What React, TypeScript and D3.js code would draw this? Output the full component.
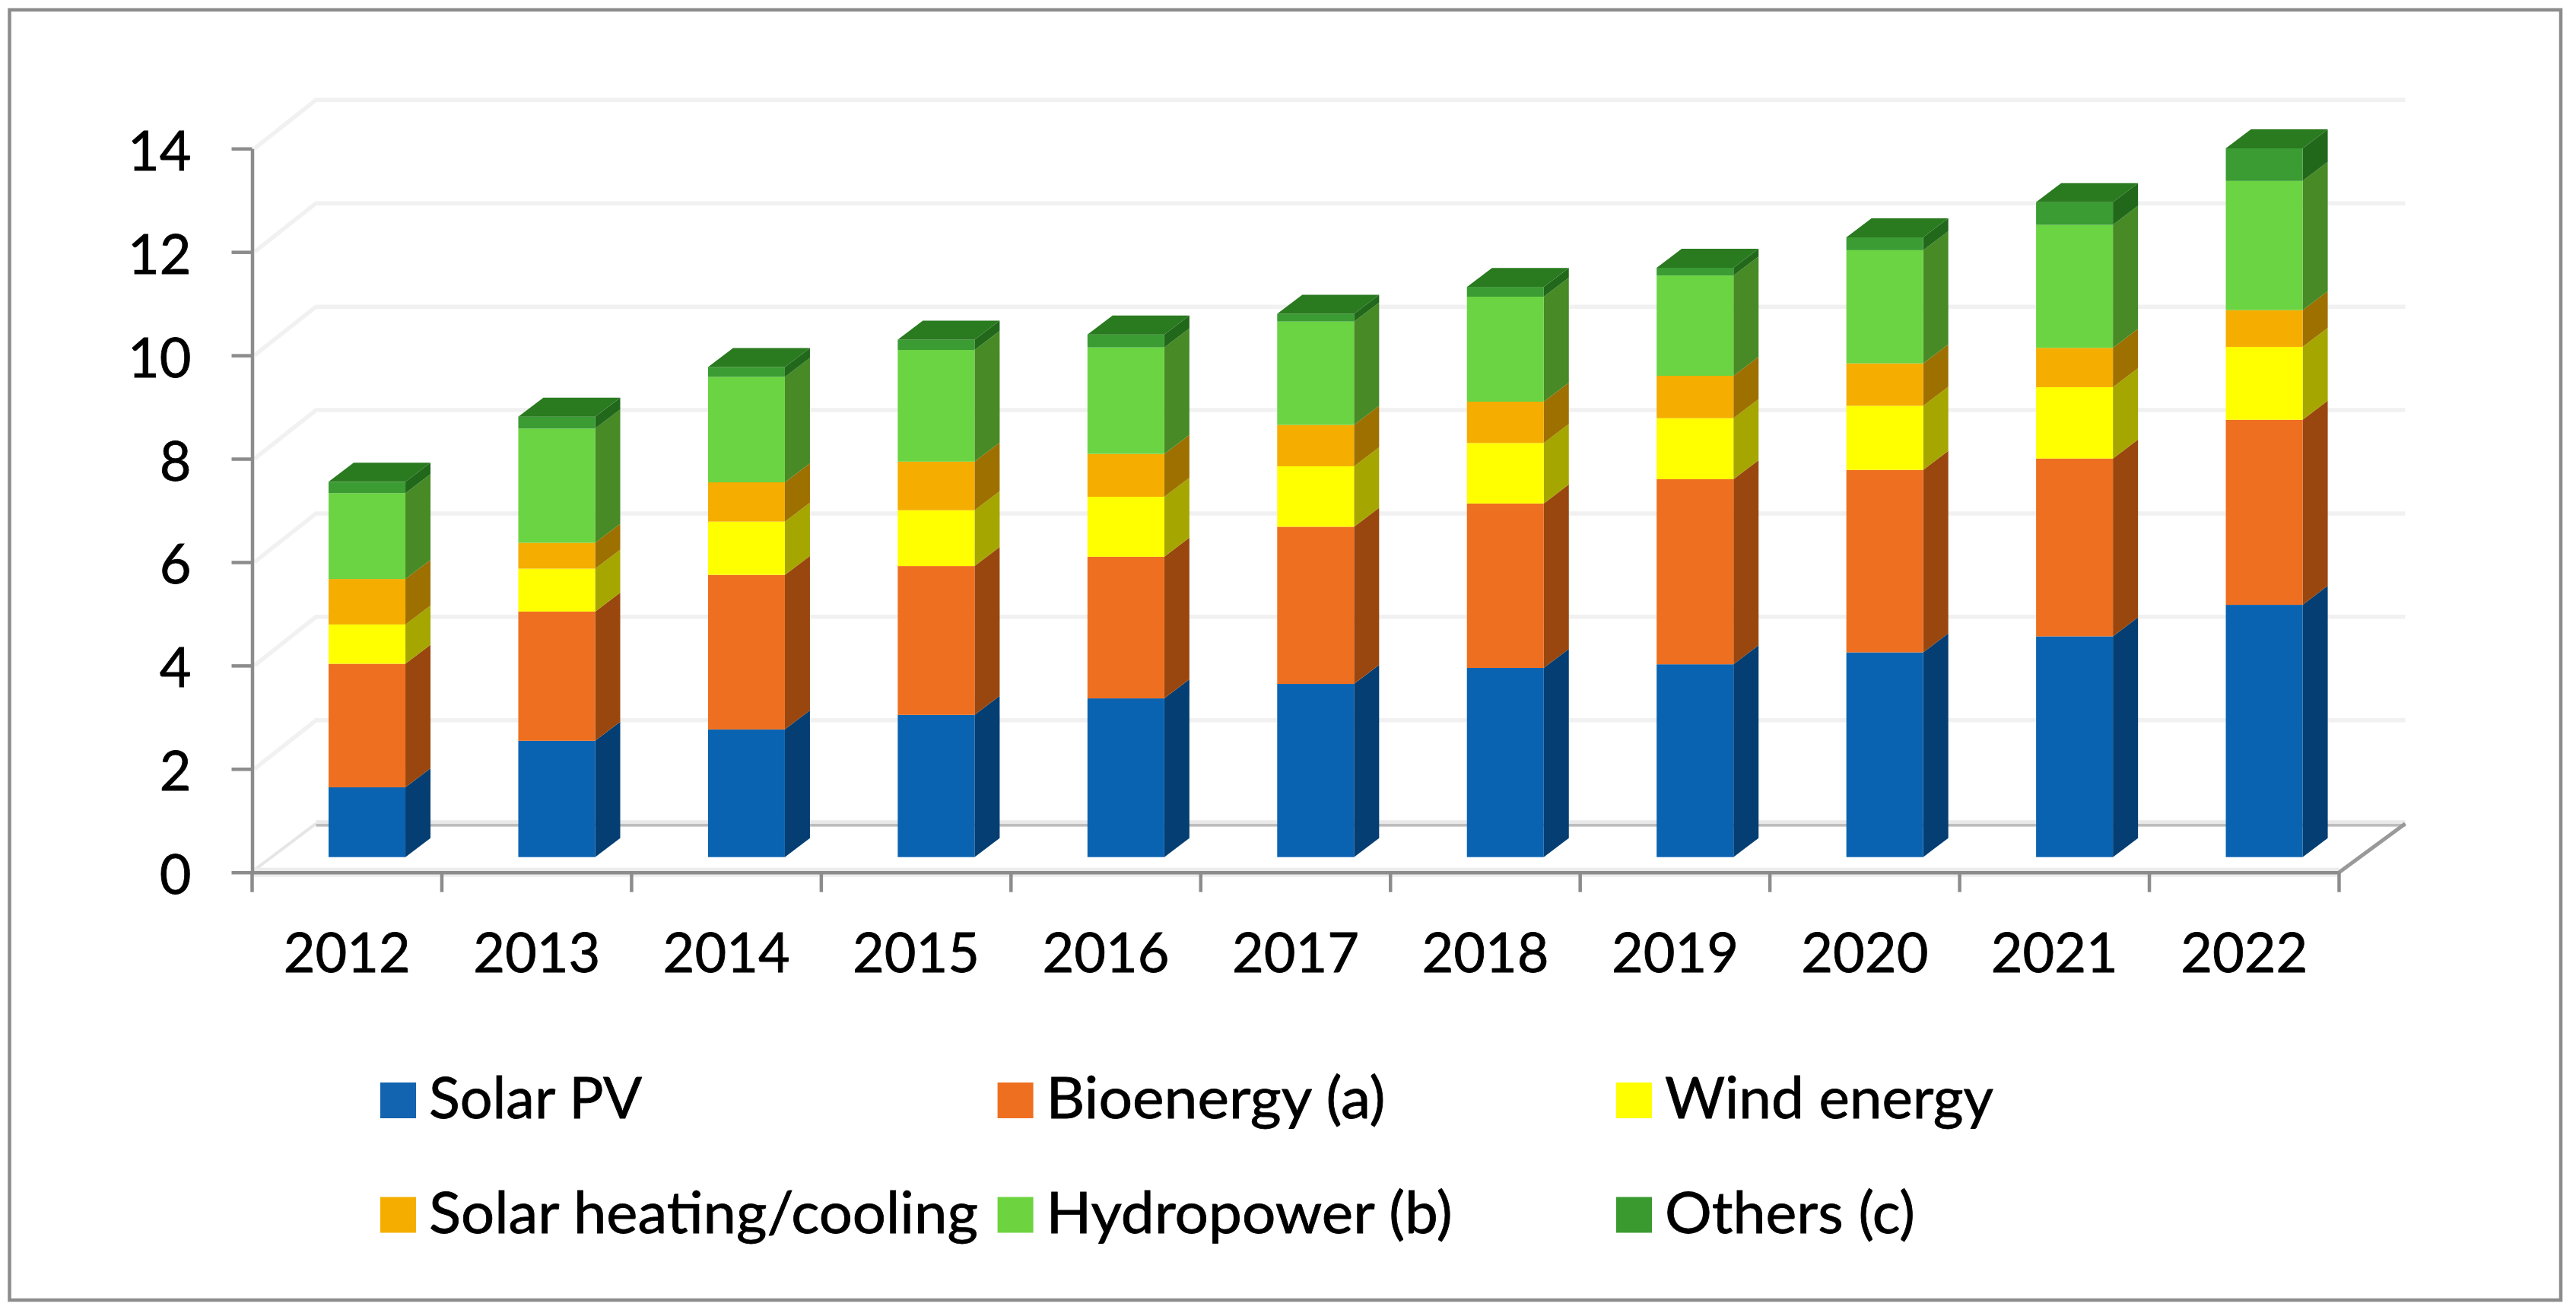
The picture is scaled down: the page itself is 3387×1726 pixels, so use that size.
import { useEffect, useRef } from "react";
import * as d3 from "d3";

const years = ["2012", "2013", "2014", "2015", "2016", "2017", "2018", "2019", "2020", "2021", "2022"];
const yTicks = [0, 2, 4, 6, 8, 10, 12, 14];

const seriesNames = ["Solar PV", "Bioenergy (a)", "Wind energy", "Solar heating/cooling", "Hydropower (b)", "Others (c)"];
const solarPv = [1.35, 2.25, 2.47, 2.75, 3.07, 3.35, 3.66, 3.73, 3.96, 4.27, 4.88];
const bioenergy = [2.39, 2.5, 2.99, 2.88, 2.74, 3.04, 3.18, 3.58, 3.53, 3.44, 3.58];
const windEnergy = [0.76, 0.83, 1.03, 1.08, 1.16, 1.17, 1.17, 1.18, 1.24, 1.38, 1.41];
const solarHeating = [0.88, 0.5, 0.76, 0.94, 0.83, 0.8, 0.8, 0.82, 0.82, 0.76, 0.71];
const hydropower = [1.66, 2.21, 2.04, 2.16, 2.06, 2.0, 2.03, 1.94, 2.19, 2.38, 2.5];
const others = [0.22, 0.23, 0.19, 0.2, 0.25, 0.15, 0.19, 0.15, 0.25, 0.44, 0.63];

const frontColors = ["#0a63b1", "#ee6f1f", "#ffff00", "#f5ad00", "#6bd442", "#3a9c33"];
const sideColors = ["#053e72", "#99470e", "#a6a600", "#9e7000", "#478a26", "#22681b"];
const topColor = "#2a7a20";

const FONT = "Lato, 'Noto Sans', sans-serif";
const AXIS_GRAY = "#8c8c8c";

export default function App() {
  const svgRef = useRef<SVGSVGElement>(null);

  useEffect(() => {
    if (!svgRef.current) return;

    const svg = d3.select(svgRef.current);
    svg.selectAll("*").remove();

    // plot plane
    const x0 = 331.5;
    const x1 = 3075.5;
    const y0 = 1146.7;
    const y14 = 195.3;
    // 3d offsets: back wall, bar front face, bar depth
    const wallDx = 84;
    const wallDy = -64;
    const barDx = 26.3;
    const barDy = -20;
    const depthDx = 33;
    const depthDy = -25;

    const xScale = d3.scaleBand<string>().domain(years).range([x0, x1]).paddingInner(0.595).paddingOuter(0.2975);
    const yScale = d3.scaleLinear().domain([0, 14]).range([y0, y14]);
    const step = xScale.step();

    svg.append("rect")
      .attr("x", 12.5)
      .attr("y", 13)
      .attr("width", 3354.5)
      .attr("height", 1696)
      .attr("fill", "#fff")
      .attr("stroke", AXIS_GRAY)
      .attr("stroke-width", 4.5);

    const line = d3.line<[number, number]>();

    // Gridlines on the side and back walls
    const grid = svg.append("g").attr("fill", "none");
    yTicks.filter((t) => t > 0).forEach((t) => {
      grid.append("path")
        .attr("d", line([[x0 + 3, yScale(t)], [x0 + wallDx, yScale(t) + wallDy], [x1 + wallDx + 3, yScale(t) + wallDy]]))
        .attr("stroke", "#f1f1f1")
        .attr("stroke-width", 5.5);
    });

    // Floor
    grid.append("path")
      .attr("d", line([[x0 + 3, y0 - 3], [x0 + wallDx, y0 + wallDy]]))
      .attr("stroke", "#e6e6e6")
      .attr("stroke-width", 4);
    grid.append("path")
      .attr("d", line([[x0 + wallDx, y0 + wallDy], [x1 + wallDx + 3, y0 + wallDy]]))
      .attr("stroke", "#e9e9e9")
      .attr("stroke-width", 9);
    grid.append("path")
      .attr("d", line([[x0 + wallDx, y0 + wallDy + 2], [x1 + wallDx + 3, y0 + wallDy + 2]]))
      .attr("stroke", "#bdbdbd")
      .attr("stroke-width", 3.5);
    grid.append("path")
      .attr("d", line([[x0, y0], [x1, y0]]))
      .attr("stroke", "#ececec")
      .attr("stroke-width", 12);

    // Stacked 3d bars
    const table = years.map((year, i) => ({
      year,
      [seriesNames[0]]: solarPv[i],
      [seriesNames[1]]: bioenergy[i],
      [seriesNames[2]]: windEnergy[i],
      [seriesNames[3]]: solarHeating[i],
      [seriesNames[4]]: hydropower[i],
      [seriesNames[5]]: others[i],
    }));
    const stacked = d3.stack<any>().keys(seriesNames)(table);

    const bars = svg.append("g");
    stacked.forEach((layer, si) => {
      const g = bars.append("g");
      // side face
      g.selectAll("path.side")
        .data(layer)
        .enter()
        .append("path")
        .attr("class", "side")
        .attr("fill", sideColors[si])
        .attr("d", (d) => {
          const r = (xScale(d.data.year) || 0) + xScale.bandwidth() + barDx;
          const a = yScale(d[0]) + barDy;
          const b = yScale(d[1]) + barDy;
          return (line([[r, a], [r + depthDx, a + depthDy], [r + depthDx, b + depthDy], [r, b]]) || "") + "Z";
        });
      // front face
      g.selectAll("rect.front")
        .data(layer)
        .enter()
        .append("rect")
        .attr("class", "front")
        .attr("fill", frontColors[si])
        .attr("x", (d) => (xScale(d.data.year) || 0) + barDx)
        .attr("width", xScale.bandwidth())
        .attr("y", (d) => yScale(d[1]) + barDy)
        .attr("height", (d) => yScale(d[0]) - yScale(d[1]));
    });

    // Top caps of the stacks
    const lastLayer = stacked[stacked.length - 1];
    bars.selectAll("path.top")
      .data(lastLayer)
      .enter()
      .append("path")
      .attr("class", "top")
      .attr("fill", topColor)
      .attr("d", (d) => {
        const l = (xScale(d.data.year) || 0) + barDx;
        const r = l + xScale.bandwidth();
        const t = yScale(d[1]) + barDy;
        return (line([[l, t], [r, t], [r + depthDx, t + depthDy], [l + depthDx, t + depthDy]]) || "") + "Z";
      });

    // Right edge of the floor
    svg.append("path")
      .attr("d", line([[x1, y0], [x1 + wallDx + 3, y0 + wallDy]]))
      .attr("fill", "none")
      .attr("stroke", "#999")
      .attr("stroke-width", 5);

    // Y Axis
    svg.append("g")
      .attr("transform", `translate(${x0},0)`)
      .call(d3.axisLeft(yScale).tickValues(yTicks).tickSize(27).tickSizeOuter(0).tickPadding(53))
      .call((g) => g.select(".domain").attr("stroke", AXIS_GRAY).attr("stroke-width", 4.5))
      .call((g) => g.selectAll(".tick line").attr("stroke", AXIS_GRAY).attr("stroke-width", 4.5))
      .call((g) =>
        g.selectAll(".tick text")
          .attr("dy", 28)
          .attr("fill", "#000")
          .style("stroke", "#000")
          .style("stroke-width", 0.8)
          .style("font-family", FONT)
          .style("font-size", "72px")
      );

    // X Axis
    svg.append("g")
      .attr("transform", `translate(0,${y0})`)
      .call(d3.axisBottom(xScale).tickSize(0).tickSizeOuter(0))
      .call((g) => g.select(".domain").attr("stroke", AXIS_GRAY).attr("stroke-width", 4.5))
      .call((g) =>
        g.selectAll(".tick text")
          .attr("y", 131.5)
          .attr("dy", 0)
          .attr("fill", "#000")
          .style("stroke", "#000")
          .style("stroke-width", 0.8)
          .style("font-family", FONT)
          .style("font-size", "72px")
      );

    // Category separators
    const edges = [...years.map((y) => (xScale(y) || 0) - (step - xScale.bandwidth()) / 2), x1];
    svg.append("g")
      .selectAll("line")
      .data(edges)
      .enter()
      .append("line")
      .attr("x1", (d) => d)
      .attr("x2", (d) => d)
      .attr("y1", y0)
      .attr("y2", y0 + 26)
      .attr("stroke", AXIS_GRAY)
      .attr("stroke-width", 4.5);

    // Legend
    const legendColumns = [500, 1311.6, 2125];
    const legendRows = [1470, 1620.5];
    const legendWidths = [280, 446, 432, 722, 534, 329];
    const legendColors = ["#1264b0", "#ee6f1f", "#ffff00", "#f5ad00", "#6dd33f", "#3a9a30"];
    const legend = svg.append("g");
    seriesNames.forEach((name, i) => {
      const lx = legendColumns[i % 3];
      const ly = legendRows[Math.floor(i / 3)];
      legend.append("rect")
        .attr("x", lx)
        .attr("y", ly - 47)
        .attr("width", 47)
        .attr("height", 47)
        .attr("fill", legendColors[i]);
      legend.append("text")
        .attr("x", lx + 64)
        .attr("y", ly)
        .attr("textLength", legendWidths[i])
        .attr("lengthAdjust", "spacingAndGlyphs")
        .attr("fill", "#000")
        .style("stroke", "#000")
        .style("stroke-width", 0.8)
        .style("font-family", FONT)
        .style("font-size", "76px")
        .text(name);
    });
  }, []);

  return (
    <svg
      ref={svgRef}
      width="3387"
      height="1726"
      style={{ position: "absolute", left: 0, top: 0, background: "#fff" }}
    />
  );
}
